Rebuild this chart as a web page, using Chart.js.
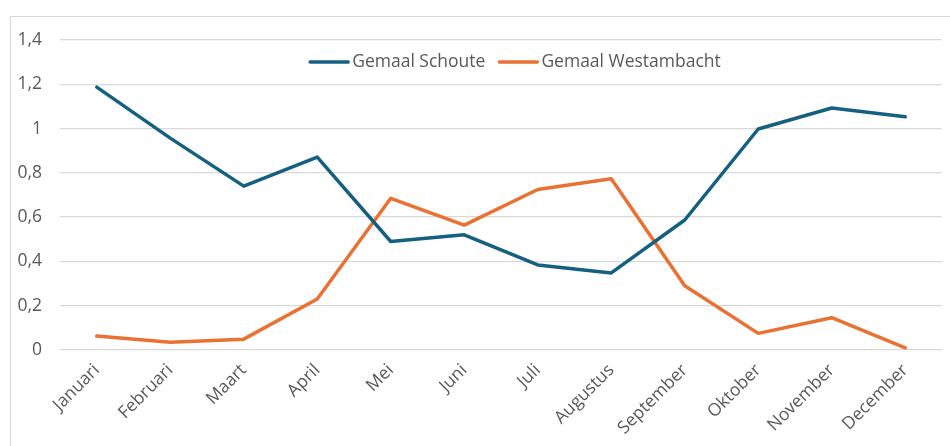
<!DOCTYPE html>
<html>
<head>
<meta charset="utf-8">
<script src="https://cdn.jsdelivr.net/npm/chart.js@4/dist/chart.umd.min.js"></script>
<style>
  html, body { margin: 0; padding: 0; background: #ffffff; overflow: hidden; }
  #wrap { position: relative; width: 950px; height: 446px; }
  #frame { position: absolute; left: 10px; top: 16px; width: 960px; height: 460px;
           border-left: 1px solid #d9d9d9; border-top: 1px solid #d9d9d9; }
  canvas { position: absolute; left: 0; top: 0; }
</style>
</head>
<body>
<div id="wrap">
  <div id="frame"></div>
  <canvas id="c" width="950" height="446"></canvas>
</div>
<script>
const categories = ["Januari","Februari","Maart","April","Mei","Juni","Juli","Augustus","September","Oktober","November","December"];
const seriesNames = ["Gemaal Schoute","Gemaal Westambacht"];
const schoute = [1.187, 0.957, 0.740, 0.871, 0.490, 0.520, 0.384, 0.348, 0.587, 0.998, 1.093, 1.053];
const westambacht = [0.063, 0.035, 0.049, 0.230, 0.685, 0.564, 0.725, 0.773, 0.290, 0.075, 0.146, 0.010];
const yTicks = [0, 0.2, 0.4, 0.6, 0.8, 1, 1.2, 1.4];
const colors = ["#156082", "#E97132"];

const FONT = "'Open Sans', 'Noto Sans', sans-serif";
const TEXT = "#595959";

const legendPlugin = {
  id: 'innerLegend',
  afterDraw(chart) {
    const ctx = chart.ctx;
    const ds = chart.data.datasets;
    ctx.save();
    ctx.font = "17.5px " + FONT;
    ctx.textBaseline = 'middle';
    const lineLen = 40, gap = 3, itemGap = 13;
    let total = 0;
    const widths = ds.map(d => ctx.measureText(d.label).width);
    widths.forEach((w, i) => { total += lineLen + gap + w + (i < widths.length - 1 ? itemGap : 0); });
    const cx = 515, cy = 62;
    let x = cx - total / 2;
    ds.forEach((d, i) => {
      ctx.strokeStyle = d.borderColor;
      ctx.lineWidth = 3.5;
      ctx.lineCap = 'round';
      ctx.beginPath();
      ctx.moveTo(x + 1, cy);
      ctx.lineTo(x + lineLen - 1, cy);
      ctx.stroke();
      x += lineLen + gap;
      ctx.fillStyle = TEXT;
      ctx.textAlign = 'left';
      ctx.fillText(d.label, x, cy);
      x += widths[i] + itemGap;
    });
    ctx.restore();
  }
};

new Chart(document.getElementById('c'), {
  type: 'line',
  data: {
    labels: categories,
    datasets: [
      { label: seriesNames[0], data: schoute, borderColor: colors[0], backgroundColor: colors[0],
        borderWidth: 3.5, pointRadius: 0, tension: 0, borderJoinStyle: 'round', borderCapStyle: 'round' },
      { label: seriesNames[1], data: westambacht, borderColor: colors[1], backgroundColor: colors[1],
        borderWidth: 3.5, pointRadius: 0, tension: 0, borderJoinStyle: 'round', borderCapStyle: 'round' }
    ]
  },
  options: {
    responsive: false,
    animation: false,
    layout: { padding: { left: 0, right: 8, top: 40, bottom: 0 } },
    plugins: { legend: { display: false }, tooltip: { enabled: false } },
    scales: {
      x: {
        offset: true,
        afterFit(scale) { scale.height = 96; },
        grid: { display: false, drawTicks: false },
        border: { display: false },
        ticks: { color: TEXT, font: { family: FONT, size: 17.5 }, maxRotation: 45, minRotation: 45, padding: 10, autoSkip: false }
      },
      y: {
        min: 0, max: 1.4,
        afterFit(scale) { scale.width = 60; },
        afterBuildTicks(scale) { scale.ticks = yTicks.map(v => ({ value: v })); },
        grid: { color: "#d9d9d9", lineWidth: 1.3, drawTicks: false },
        border: { display: false },
        ticks: {
          color: TEXT, font: { family: FONT, size: 17.5 }, padding: 18,
          callback: v => String(v).replace('.', ',')
        }
      }
    }
  },
  plugins: [legendPlugin]
});
</script>
</body>
</html>
